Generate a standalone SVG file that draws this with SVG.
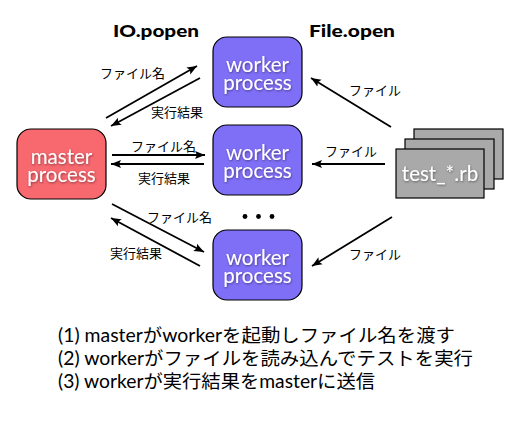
<svg xmlns="http://www.w3.org/2000/svg" width="529" height="421" viewBox="0 0 529 421">
<style>
.box{stroke:#000;stroke-width:1.2}
.master{fill:#f7686f}
.worker{fill:#7f6ff7}
.file{fill:#a9a9a9;stroke:#000;stroke-width:1.2}
.nt{font-family:"Lato","Open Sans",sans-serif;font-size:20.5px;fill:#fff;text-anchor:middle}
.title{font-family:"Lato","Open Sans",sans-serif;font-weight:900;font-size:17px;fill:#000}
.lbl{font-family:"Noto Sans CJK JP",sans-serif;font-size:13px;fill:#000}
.cap{font-family:"Lato","Noto Sans CJK JP",sans-serif;font-size:18.5px;fill:#000}
.arr{stroke:#000;stroke-width:1.8;fill:none;marker-end:url(#ah)}
</style>
<defs>
<marker id="ah" markerUnits="userSpaceOnUse" markerWidth="12" markerHeight="10" refX="10" refY="5" orient="auto">
<path d="M0,1 L10,5 L0,9 L2,5 z" fill="#000"/>
</marker>
<filter id="sh" x="-10%" y="-10%" width="120%" height="130%">
<feDropShadow dx="0.6" dy="1" stdDeviation="0.8" flood-color="#000" flood-opacity="0.45"/>
</filter>
</defs>
<rect width="529" height="421" fill="#fff"/>
<text class="title" x="113" y="37" textLength="86" lengthAdjust="spacingAndGlyphs">IO.popen</text>
<text class="title" x="309" y="37" textLength="86" lengthAdjust="spacingAndGlyphs">File.open</text>

<g id="master">
<rect class="box master" x="17" y="129" width="89" height="70" rx="14"/>
<text class="nt" filter="url(#sh)"><tspan x="61.5" y="164">master</tspan><tspan x="61.5" y="182">process</tspan></text>
</g>
<g id="worker1">
<rect class="box worker" x="213" y="37" width="89" height="70" rx="14"/>
<text class="nt" filter="url(#sh)"><tspan x="257.5" y="72">worker</tspan><tspan x="257.5" y="90">process</tspan></text>
</g>
<g id="worker2">
<rect class="box worker" x="213" y="125" width="89" height="70" rx="14"/>
<text class="nt" filter="url(#sh)"><tspan x="257.5" y="160">worker</tspan><tspan x="257.5" y="178">process</tspan></text>
</g>
<g id="worker3">
<rect class="box worker" x="213" y="230" width="89" height="70" rx="14"/>
<text class="nt" filter="url(#sh)"><tspan x="257.5" y="265">worker</tspan><tspan x="257.5" y="283">process</tspan></text>
</g>
<g id="files">
<rect class="file" x="414" y="129" width="89" height="50"/>
<rect class="file" x="405" y="139" width="89" height="50"/>
<rect class="file" x="396" y="149" width="88" height="49"/>
<text class="nt" x="440" y="181" font-size="20" filter="url(#sh)">test_*.rb</text>
</g>
<g id="dots">
<circle cx="245" cy="216.5" r="2.4"/>
<circle cx="258.5" cy="216.5" r="2.4"/>
<circle cx="272" cy="216.5" r="2.4"/>
</g>

<g id="connectors">
<line class="arr" x1="106" y1="118" x2="197" y2="66"/>
<line class="arr" x1="200" y1="78" x2="111" y2="126"/>
<line class="arr" x1="112" y1="155" x2="205" y2="155"/>
<line class="arr" x1="204" y1="164" x2="111" y2="164"/>
<line class="arr" x1="112" y1="204" x2="204" y2="252"/>
<line class="arr" x1="200" y1="266" x2="111" y2="218"/>
<line class="arr" x1="391" y1="127" x2="311" y2="78"/>
<line class="arr" x1="385" y1="164" x2="312" y2="164"/>
<line class="arr" x1="392" y1="217" x2="312" y2="266"/>
<text class="lbl" x="100" y="78">ファイル名</text>
<text class="lbl" x="151" y="117">実行結果</text>
<text class="lbl" x="131" y="151">ファイル名</text>
<text class="lbl" x="138" y="183">実行結果</text>
<text class="lbl" x="147" y="222">ファイル名</text>
<text class="lbl" x="110" y="258">実行結果</text>
<text class="lbl" x="349" y="95">ファイル</text>
<text class="lbl" x="325" y="156">ファイル</text>
<text class="lbl" x="349" y="259">ファイル</text>
</g>

<text class="cap" x="58" y="342" textLength="397" lengthAdjust="spacingAndGlyphs">(1) masterがworkerを起動しファイル名を渡す</text>
<text class="cap" x="58" y="365" textLength="415" lengthAdjust="spacingAndGlyphs">(2) workerがファイルを読み込んでテストを実行</text>
<text class="cap" x="58" y="388" textLength="317" lengthAdjust="spacingAndGlyphs">(3) workerが実行結果をmasterに送信</text>
</svg>
